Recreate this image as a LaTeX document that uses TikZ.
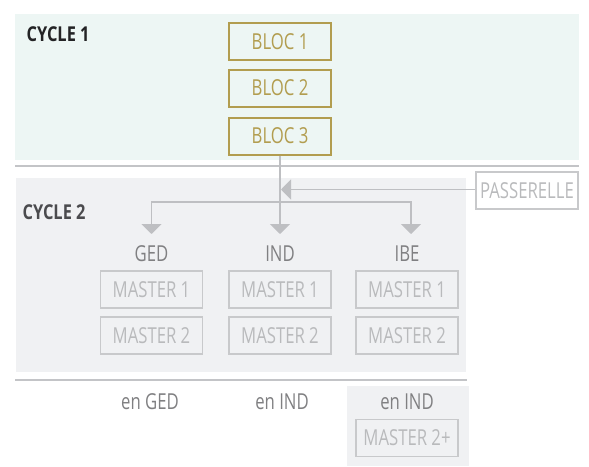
\documentclass[tikz,border=0pt]{standalone}
\usepackage{fontspec}
\setmainfont{Open Sans}[FakeStretch=0.76, BoldFeatures={FakeStretch=0.8}]
\usepackage{tikz}
\usetikzlibrary{arrows.meta, positioning}
\definecolor{cycle_1_bg}{RGB}{237,246,244}
\definecolor{cycle_2_bg}{RGB}{240,241,243}
\definecolor{bloc_gold}{RGB}{178,157,79}
\definecolor{line_gray}{RGB}{195,196,199}
\definecolor{arrow_gray}{RGB}{190,191,194}
\definecolor{box_gray}{RGB}{200,201,203}
\definecolor{master_gray}{RGB}{185,186,188}
\definecolor{label_gray}{RGB}{128,128,130}
\definecolor{cycle_1_text}{RGB}{35,35,37}
\definecolor{cycle_2_text}{RGB}{75,75,78}
\tikzset{
  box_font/.style = {font=\fontsize{22}{22}\selectfont},
  title_font/.style = {font=\fontsize{20.5}{20.5}\selectfont\bfseries},
  box_size/.style = {minimum width=102, minimum height=37, inner sep=0}
}
\tikzset{
  bloc/.style = {box_font, box_size, draw=bloc_gold, line width=2, text=bloc_gold},
  master/.style = {box_font, box_size, draw=box_gray, line width=1.8, text=master_gray},
  track/.style = {box_font, text=label_gray, inner sep=0},
  cycle/.style = {title_font, anchor=west, inner sep=0},
  flow/.style = {draw=arrow_gray, line width=1.8, -{Triangle[width=20pt, length=10pt]}},
  separator/.style = {draw=line_gray, line width=2}
}
\begin{document}
\begin{tikzpicture}[x=1pt, y=-1pt]
        \useasboundingbox (0,0) rectangle (589,466);

        % Backgrounds
        \fill[cycle_1_bg] (15,14) rectangle (579,160);
        \fill[cycle_2_bg] (16,178) rectangle (466,372);
        \fill[cycle_2_bg] (347,386) rectangle (469,466);
        \draw[separator] (15,165.5)--(579,165.5);
        \draw[separator] (15,380)--(467,380);

        % Cycle 1
        \node[cycle, text=cycle_1_text] at (26.5,34) (c_1) {CYCLE 1};
        \node[bloc] at (280,41.5) (bloc_1) {BLOC 1};
        \node[bloc, below=7.5pt of bloc_1] (bloc_2) {BLOC 2};
        \node[bloc, below=9pt of bloc_2] (bloc_3) {BLOC 3};

        % Cycle 2
        \node[cycle, text=cycle_2_text] at (22.5,212) (c_2) {CYCLE 2};
        \node[master] at (527,190.5) (passerelle) {PASSERELLE};
        \node[track] at (151.5,254) (ged) {GED};
        \node[track] at (280,254) (ind) {IND};
        \node[track] at (407,254) (ibe) {IBE};
        \node[master] at (151.5,289.5) (ged_m_1) {MASTER 1};
        \node[master, below=7.5pt of ged_m_1] (ged_m_2) {MASTER 2};
        \node[master] at (280,289.5) (ind_m_1) {MASTER 1};
        \node[master, below=7.5pt of ind_m_1] (ind_m_2) {MASTER 2};
        \node[master] at (407,289.5) (ibe_m_1) {MASTER 1};
        \node[master, below=7.5pt of ibe_m_1] (ibe_m_2) {MASTER 2};

        % After cycle 2
        \node[track] at (150,402) (en_ged) {en GED};
        \node[track] at (282,402) (en_ind) {en IND};
        \node[track] at (407,402) (en_ibe) {en IND};
        \node[master] at (407,438) (ibe_m_2p) {MASTER 2+};

        % Arrows and lines
        \coordinate (split) at (280,202);
        \coordinate (merge) at (281,189.5);
        \coordinate (ged_tip) at (151.5,234);
        \coordinate (ind_tip) at (280,234);
        \coordinate (ibe_tip) at (411,234);

        \draw[flow] (bloc_3.south)--(ind_tip);
        \draw[flow] (split) -| (ged_tip);
        \draw[flow] (split) -| (ibe_tip);
        \draw[flow, line width=1.6] (passerelle.west |- merge)--(merge);
    \end{tikzpicture}
\end{document}
